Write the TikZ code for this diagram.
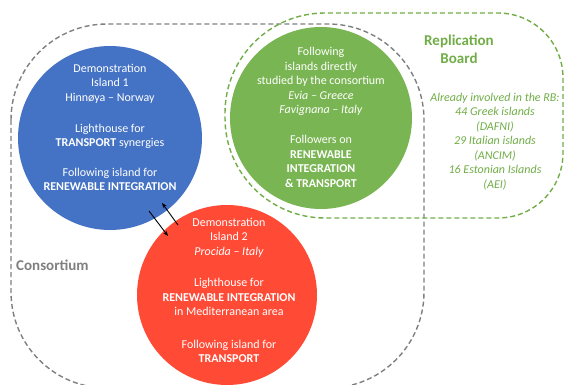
\documentclass[tikz,border=0pt]{standalone}
\usepackage{fontspec}
\setmainfont{Carlito}
\usetikzlibrary{arrows.meta}
\definecolor{cblue}{HTML}{4472C4}
\definecolor{cgreen}{HTML}{7AB553}
\definecolor{cgreenline}{HTML}{70AD47}
\definecolor{cred}{HTML}{FF4A36}
\definecolor{cgray}{HTML}{7F7F7F}
\begin{document}
\begin{tikzpicture}[x=1pt,y=-1pt,
  island/.style={circle,minimum size=#1,inner sep=0pt},
  itext/.style={text=white,align=center,font=\fontsize{12}{14.5}\selectfont},
  gtext/.style={text=cgreenline,align=center,font=\fontsize{12}{14.5}\selectfont\itshape},
  title/.style={font=\fontsize{15}{18}\selectfont\bfseries},
  dashbox/.style={line width=1.4pt,dash pattern=on 5pt off 3pt},
  link/.style={line width=0.9pt,-{Stealth[length=5pt,width=4pt]}}]
\useasboundingbox (0,0) rectangle (565,385);
% consortium box
\draw[dashbox,cgray,rounded corners=96] (11,24) rectangle (424,388);
% replication board box
\draw[dashbox,cgreenline]
  (225,113) .. controls (225,57.77) and (269.77,13) .. (325,13)
  -- (498,13) .. controls (533.9,13) and (563,42.1) .. (563,78)
  -- (563,153) .. controls (563,188.9) and (533.9,218) .. (498,218)
  -- (325,218) .. controls (269.77,218) and (225,173.23) .. (225,118)
  -- cycle;
% islands
\node[island=184pt,fill=cblue] (blue) at (110,138) {};
\node[island=182pt,fill=cgreen] (green) at (321,118) {};
\node[island=180pt,fill=cred] (red) at (227,295) {};
% texts
\node[itext] (bluetext) at (110,127.5) {Demonstration\\Island 1\\Hinnøya – Norway\\[16.5pt]Lighthouse for\\\textbf{TRANSPORT} synergies\\[15pt]Following island for\\\textbf{RENEWABLE INTEGRATION}};
\node[itext] (greentext) at (321,117.5) {Following\\islands directly\\studied by the consortium\\\textit{Evia – Greece}\\\textit{Favignana – Italy}\\[15.5pt]Followers on\\\textbf{RENEWABLE}\\\textbf{INTEGRATION}\\\textbf{\& TRANSPORT}};
\node[itext] (redtext) at (229,290.5) {Demonstration\\Island 2\\\textit{Procida – Italy}\\[17pt]Lighthouse for\\\textbf{RENEWABLE INTEGRATION}\\in Mediterranean area\\[18pt]Following island for\\\textbf{TRANSPORT}};
\node[title,text=cgreenline,align=center] (rbtitle) at (459,49) {Replication\\Board};
\node[gtext] (rblist) at (495,141.5) {Already involved in the RB:\\44 Greek islands\\(DAFNI)\\29 Italian islands\\(ANCIM)\\16 Estonian Islands\\(AEI)};
\node[title,text=cgray,anchor=west,inner sep=0pt] (cons) at (16,265) {Consortium};
% arrows
\coordinate (a1s) at (149,211);
\coordinate (a1e) at (168,236);
\coordinate (a2s) at (178,225);
\coordinate (a2e) at (162,203);
\draw[link] (a1s) -- (a1e);
\draw[link] (a2s) -- (a2e);
\end{tikzpicture}
\end{document}
